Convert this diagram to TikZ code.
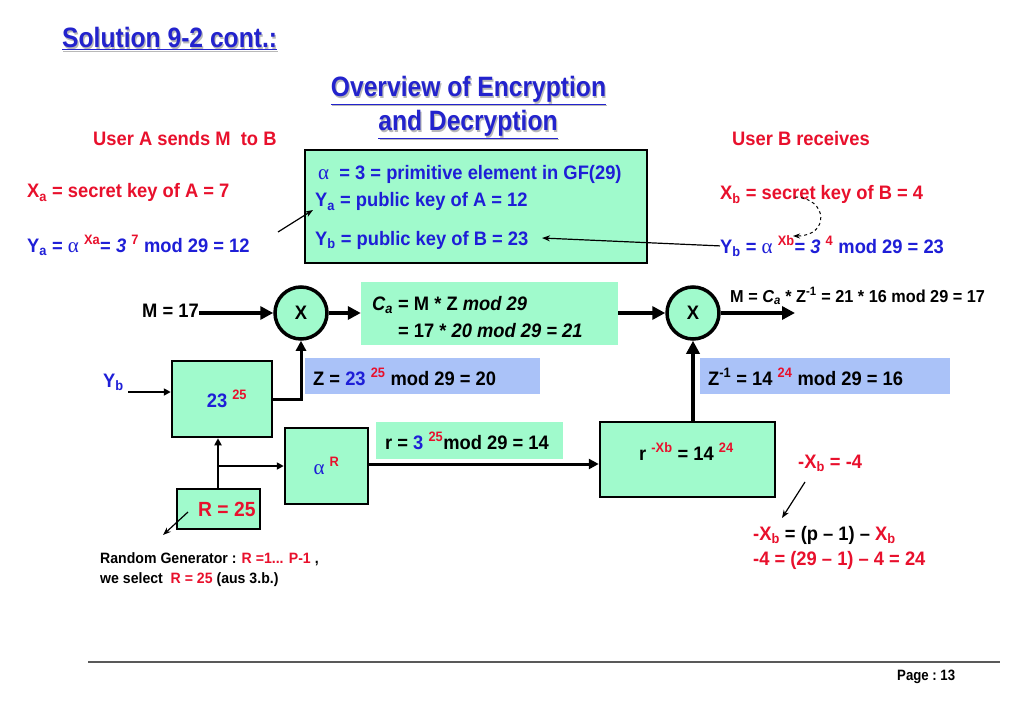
\documentclass[tikz,border=0pt]{standalone}
\usepackage{fontspec}
\setmainfont{Liberation Sans}[FakeStretch=0.94]
\newfontfamily\titlefont{Liberation Sans}[FakeStretch=0.88]
\newfontfamily\grkfont{Liberation Serif}
\newcommand\alp{{\mdseries\grkfont\fontsize{21}{22}\selectfont α}}
\usetikzlibrary{arrows.meta}
\definecolor{rd}{RGB}{232,16,44}
\definecolor{bl}{RGB}{30,30,215}
\definecolor{tb}{RGB}{35,35,205}
\definecolor{gr}{RGB}{160,250,204}
\definecolor{lb}{RGB}{170,194,248}
\tikzset{
  txt/.style={inner sep=0pt, anchor=base west, font=\bfseries\fontsize{19.5}{22}\selectfont},
  sml/.style={inner sep=0pt, anchor=base west, font=\bfseries\fontsize{15}{17}\selectfont},
  ttl/.style={inner sep=0pt, anchor=base, font=\titlefont\bfseries\fontsize{28}{32}\selectfont, text=tb},
  ttlsh/.style={ttl, text=black!28},
  gbox/.style={draw, line width=2.5pt, fill=gr, inner sep=0pt, font=\bfseries\fontsize{19.5}{22}\selectfont},
  gfill/.style={fill=gr, inner sep=0pt},
  bfill/.style={fill=lb, inner sep=0pt},
  circ/.style={circle, draw, line width=3.5pt, fill=gr, minimum size=52pt, inner sep=0pt, font=\bfseries\fontsize{19.5}{22}\selectfont},
  thk/.style={line width=3.5pt, -{Triangle[length=13pt,width=13pt]}},
  med/.style={line width=3pt, -{Triangle[length=10pt,width=10pt]}},
  thn/.style={line width=2pt, -{Triangle[length=7pt,width=7pt]}},
  hair/.style={line width=1.2pt, -{Stealth[length=8pt,width=6pt]}},
}
\begin{document}
\begin{tikzpicture}[x=1pt,y=-1pt]
\useasboundingbox (0,0) rectangle (1024,711);
% titles
\node[ttlsh, anchor=base west] (t1s) at (63.2,49.2) {\underline{Solution 9-2 cont.:}};
\node[ttl, anchor=base west] (t1) at (62,48) {\underline{Solution 9-2 cont.:}};
\node[ttlsh] (t2s) at (469.7,98.2) {\underline{Overview of Encryption}};
\node[ttl] (t2) at (468.5,97) {\underline{Overview of Encryption}};
\node[ttlsh] (t3s) at (469.2,132.2) {\underline{and Decryption}};
\node[ttl] (t3) at (468,131) {\underline{and Decryption}};
% user labels
\node[txt, text=rd] (ua) at (93,146) {User A sends M\ \ to B};
\node[txt, text=rd] (ub) at (732,146) {User B receives};
\node[txt, text=rd] (xa) at (27,198) {X\textsubscript{a} = secret key of A = 7};
\node[txt, text=bl] (ya) at (27,252) {Y\textsubscript{a} = \alp\ \textsuperscript{\color{rd}Xa}= \textit{3} \textsuperscript{\color{rd}7} mod 29 = 12};
\node[txt, text=rd] (xb) at (720,200) {X\textsubscript{b} = secret key of B = 4};
\node[txt, text=bl] (ybr) at (720,253) {Y\textsubscript{b} = \alp\ \textsuperscript{\color{rd}Xb}= \textit{3} \textsuperscript{\color{rd}4} mod 29 = 23};
% public key box
\node[gbox, minimum width=342pt, minimum height=113pt] (pk) at (476,206.5) {};
\node[txt, text=bl] (l1) at (318,180) {\alp\ \ = 3 = primitive element in GF(29)};
\node[txt, text=bl] (l2) at (315,207) {Y\textsubscript{a} = public key of A = 12};
\node[txt, text=bl] (l3) at (315,245) {Y\textsubscript{b} = public key of B = 23};
\coordinate (yaS) at (278,232);
\coordinate (yaE) at (313,210);
\draw[hair] (yaS) -- (yaE);
\coordinate (ybE) at (542,238);
\draw[hair] (ybr.west) -- (ybE);
\coordinate (dS) at (795,197);
\coordinate (dE) at (793,236);
\draw[dashed, line width=1pt, -{Stealth[length=7pt,width=5pt]}] (dS) .. controls (828,198) and (830,236) .. (dE);
% encryption row
\node[gfill, minimum width=257pt, minimum height=63pt] (ca) at (489.5,313.5) {};
\node[txt] (c1) at (372,310) {\textit{C\textsubscript{a}} = M * Z \textit{mod 29}};
\node[txt] (c2) at (398,337) {= 17 * \textit{20 mod 29 = 21}};
\node[circ] (x1) at (301,313) {X};
\node[circ] (x2) at (693,313) {X};
\node[txt] (m) at (142,317) {M = 17};
\draw[thk] (m.east |- x1) -- (x1.west);
\draw[thk] (x1.east) -- (ca.west |- x1);
\draw[thk] (ca.east |- x2) -- (x2.west);
\coordinate (out) at (795,313);
\draw[thk] (x2.east) -- (out);
\node[txt, font=\bfseries\fontsize{17.3}{20}\selectfont] (mo) at (730,302) {M = \textit{C\textsubscript{a}} * Z\textsuperscript{-1} = 21 * 16 mod 29 = 17};
% Z boxes
\node[bfill, minimum width=235pt, minimum height=36pt] (zb) at (422.5,376) {};
\node[txt] (z) at (313,385) {Z = {\color{bl}23} \textsuperscript{\color{rd}25} mod 29 = 20};
\node[bfill, minimum width=250pt, minimum height=36pt] (zib) at (825,376) {};
\node[txt] (zi) at (708,385) {Z\textsuperscript{-1} = 14 \textsuperscript{\color{rd}24} mod 29 = 16};
% left blocks
\node[gbox, minimum width=100pt, minimum height=76pt] (b23) at (222,399) {\hspace*{10pt}{\color{bl}23} \textsuperscript{\color{rd}25}};
\node[txt, text=bl] (ybl) at (103,387) {Y\textsubscript{b}};
\coordinate (yb0) at (128,392);
\draw[thn] (yb0) -- (b23.west |- yb0);
\draw[med] (b23.east) -| (x1.south);
\node[gbox, minimum width=83pt, minimum height=76pt] (al) at (326.5,466) {{\color{bl}\alp} \textsuperscript{\color{rd}R}};
\node[gbox, minimum width=83pt, minimum height=40pt] (rb) at (218.5,509) {};
\node[txt, text=rd, font=\bfseries\fontsize{20.5}{23}\selectfont] (rbt) at (198,516) {R = 25};
\draw[thn] (rb.north -| 218,0) -- (b23.south -| 218,0);
\draw[thn] (rb.north |- al.west) -- (al.west);
% r box
\node[gfill, minimum width=187pt, minimum height=37pt] (rr) at (469.5,440.5) {};
\node[txt] (rt) at (385,449) {r = {\color{bl}3} \textsuperscript{\color{rd}25}mod 29 = 14};
\node[gbox, minimum width=175pt, minimum height=75pt] (rxb) at (687.5,459.5) {};
\node[txt] (rxt) at (639,460) {r \textsuperscript{\color{rd}-Xb} = 14 \textsuperscript{\color{rd}24}};
\draw[med] (al.east |- 0,464) -- (rxb.west |- 0,464);
\draw[thk] (x2.south |- rxb.north) -- (x2.south);
% right formulas
\node[txt, text=rd] (mx) at (798,468) {-X\textsubscript{b} = -4};
\coordinate (mxS) at (805,482);
\coordinate (mxE) at (782,518);
\draw[hair] (mxS) -- (mxE);
\node[txt] (e1) at (753,540) {{\color{rd}-X\textsubscript{b}} = (p -- 1) -- {\color{rd}X\textsubscript{b}}};
\node[txt, text=rd] (e2) at (753,565) {-4 = (29 -- 1) -- 4 = 24};
% random generator
\coordinate (rgS) at (188,512);
\coordinate (rgE) at (163,535);
\draw[hair] (rgS) -- (rgE);
\node[sml] (rg1) at (100,563) {Random Generator : {\color{rd}R =1... P-1} ,};
\node[sml] (rg2) at (100,583) {we select\ \ {\color{rd}R = 25} (aus 3.b.)};
% footer
\draw[line width=1.5pt, black!65] (88,662) -- (1000,662);
\node[inner sep=0pt, anchor=base west, font=\titlefont\bfseries\fontsize{15}{17}\selectfont] (pg) at (897,680) {Page :\ 13};
\end{tikzpicture}
\end{document}
